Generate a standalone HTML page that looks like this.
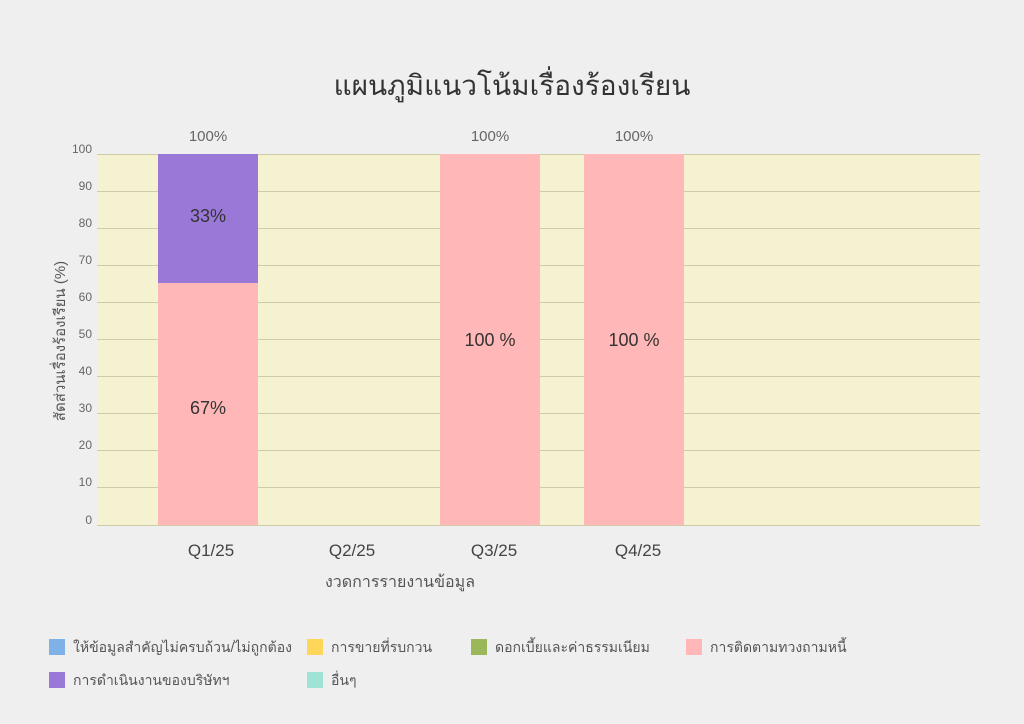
<!DOCTYPE html><html><head><meta charset="utf-8"><style>
body{margin:0;width:1024px;height:724px;background:#efefef;font-family:"Liberation Sans","Noto Sans CJK SC",sans-serif;position:relative;overflow:hidden}
.a{position:absolute;white-space:nowrap}
.t{font-size:12px;color:#666;text-align:right;width:30px}
.g{position:absolute;left:97px;width:883px;height:1px;background:#cfcba6}
.lg{position:absolute;font-size:14px;color:#555}
.lg i{display:inline-block;width:16px;height:16px;vertical-align:-3px;margin-right:8px}
</style></head><body>
<div class="a" style="left:0;width:1024px;top:64px;text-align:center;font-size:28px;color:#333">แผนภูมิแนวโน้มเรื่องร้องเรียน</div>
<div class="a" style="left:97px;top:154px;width:883px;height:371px;background:#f5f2d2"></div>
<div class="g" style="top:154px"></div><div class="g" style="top:191px"></div><div class="g" style="top:228px"></div><div class="g" style="top:265px"></div><div class="g" style="top:302px"></div><div class="g" style="top:339px"></div><div class="g" style="top:376px"></div><div class="g" style="top:413px"></div><div class="g" style="top:450px"></div><div class="g" style="top:487px"></div><div class="g" style="top:525px"></div>
<div class="a t" style="left:62px;top:142px">100</div><div class="a t" style="left:62px;top:179px">90</div><div class="a t" style="left:62px;top:216px">80</div><div class="a t" style="left:62px;top:253px">70</div><div class="a t" style="left:62px;top:290px">60</div><div class="a t" style="left:62px;top:327px">50</div><div class="a t" style="left:62px;top:364px">40</div><div class="a t" style="left:62px;top:401px">30</div><div class="a t" style="left:62px;top:438px">20</div><div class="a t" style="left:62px;top:475px">10</div><div class="a t" style="left:62px;top:513px">0</div>
<div class="a" style="left:158px;top:154px;width:100px;height:129px;background:#9a78d8"></div>
<div class="a" style="left:158px;top:283px;width:100px;height:242px;background:#ffb7b7"></div>
<div class="a" style="left:440px;top:154px;width:100px;height:371px;background:#ffb7b7"></div>
<div class="a" style="left:584px;top:154px;width:100px;height:371px;background:#ffb7b7"></div>
<div class="a" style="left:158px;width:100px;text-align:center;top:128px;font-size:15px;color:#666">100%</div>
<div class="a" style="left:440px;width:100px;text-align:center;top:128px;font-size:15px;color:#666">100%</div>
<div class="a" style="left:584px;width:100px;text-align:center;top:128px;font-size:15px;color:#666">100%</div>
<div class="a" style="left:158px;width:100px;text-align:center;top:206px;font-size:18px;color:#333">33%</div>
<div class="a" style="left:158px;width:100px;text-align:center;top:398px;font-size:18px;color:#333">67%</div>
<div class="a" style="left:440px;width:100px;text-align:center;top:330px;font-size:18px;color:#333">100 %</div>
<div class="a" style="left:584px;width:100px;text-align:center;top:330px;font-size:18px;color:#333">100 %</div>
<div class="a" style="left:161px;width:100px;text-align:center;top:541px;font-size:17px;color:#444">Q1/25</div>
<div class="a" style="left:302px;width:100px;text-align:center;top:541px;font-size:17px;color:#444">Q2/25</div>
<div class="a" style="left:444px;width:100px;text-align:center;top:541px;font-size:17px;color:#444">Q3/25</div>
<div class="a" style="left:588px;width:100px;text-align:center;top:541px;font-size:17px;color:#444">Q4/25</div>
<div class="a" style="left:290px;width:220px;text-align:center;top:570px;font-size:16px;color:#555">งวดการรายงานข้อมูล</div>
<div class="a" style="left:-40px;top:329px;width:200px;text-align:center;font-size:15px;color:#555;transform:rotate(-90deg)">สัดส่วนเรื่องร้องเรียน (%)</div>
<div class="lg" style="left:49px;top:637px"><i style="background:#7fb0e6"></i>ให้ข้อมูลสำคัญไม่ครบถ้วน/ไม่ถูกต้อง</div>
<div class="lg" style="left:307px;top:637px"><i style="background:#fdd65a"></i>การขายที่รบกวน</div>
<div class="lg" style="left:471px;top:637px"><i style="background:#9ab85a"></i>ดอกเบี้ยและค่าธรรมเนียม</div>
<div class="lg" style="left:686px;top:637px"><i style="background:#ffb7b7"></i>การติดตามทวงถามหนี้</div>
<div class="lg" style="left:49px;top:670px"><i style="background:#9a78d8"></i>การดำเนินงานของบริษัทฯ</div>
<div class="lg" style="left:307px;top:670px"><i style="background:#9ee3d5"></i>อื่นๆ</div>
</body></html>
